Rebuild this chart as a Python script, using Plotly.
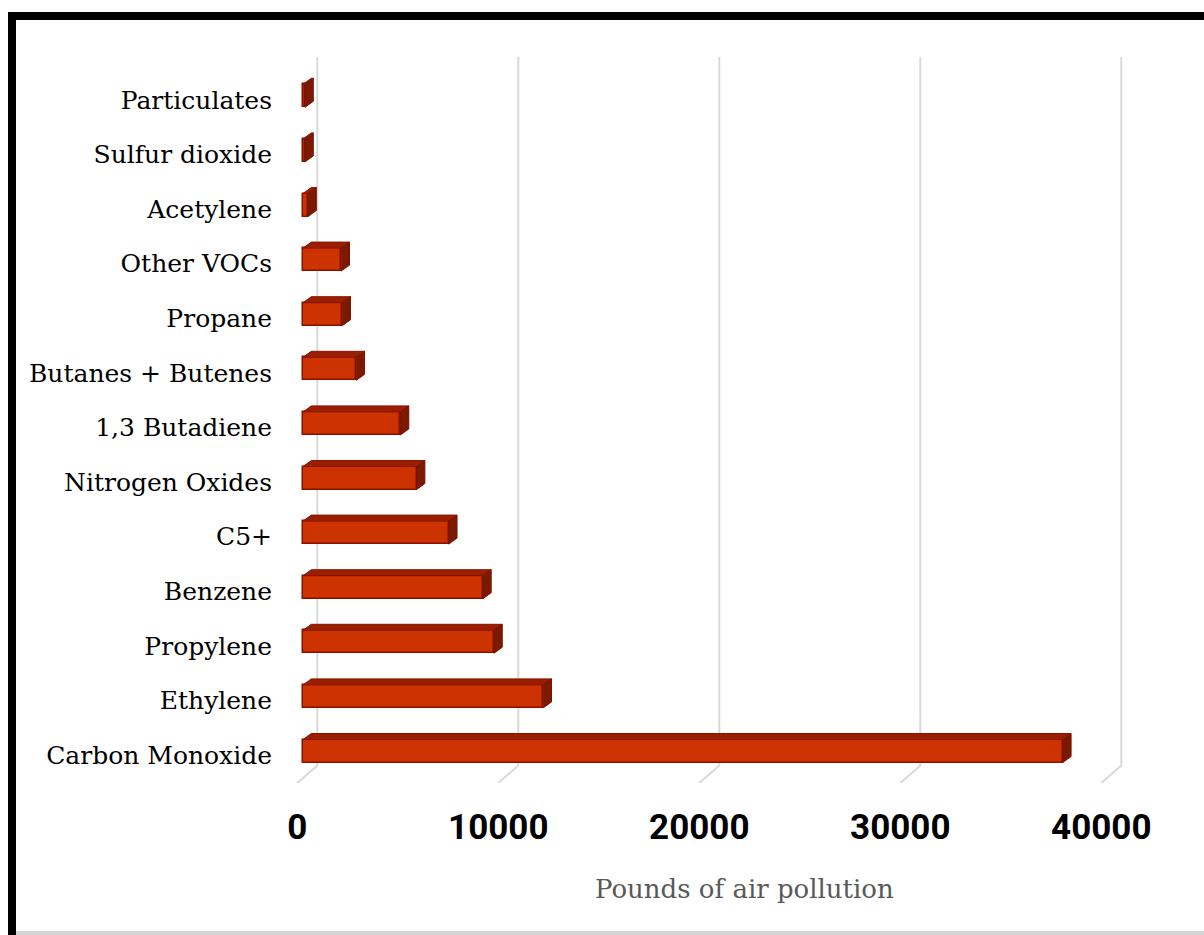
import plotly.graph_objects as go

# ---- data ----
categories = ["Carbon Monoxide", "Ethylene", "Propylene", "Benzene", "C5+",
              "Nitrogen Oxides", "1,3 Butadiene", "Butanes + Butenes", "Propane",
              "Other VOCs", "Acetylene", "Sulfur dioxide", "Particulates"]
values = [37800, 11950, 9500, 8950, 7250, 5650, 4850, 2650, 1950, 1900, 250, 100, 100]
x_ticks = [0, 10000, 20000, 30000, 40000]
x_title = "Pounds of air pollution"

# ---- geometry (pixels) ----
W, H = 1204, 935
L, R, T, B = 287, 1180, 40, 152
plot_w = R - L
plot_h = H - T - B
px_per_x = 0.0201          # pixels per data unit on x
px_per_y = 54.6            # pixels per category step
x0 = -(297.3 - L) / px_per_x
x1 = x0 + plot_w / px_per_x
y0 = -(783 - 751) / px_per_y
y1 = y0 + plot_h / px_per_y

def dx(px):
    return px / px_per_x

def dy(px):
    return px / px_per_y

# 3D offsets
floor_dx, floor_dy = dx(20), dy(17.5)
bar_off = dx(5.7)
depth_dx, depth_dy = dx(8.3), dy(6)
bar_h = dy(23)
grid_top = (751 - 57) / px_per_y

idx = list(range(len(categories)))

fig = go.Figure()

# top and side faces of the 3D bars
tx, ty, sx, sy = [], [], [], []
for i, v in zip(idx, values):
    top = i + bar_h / 2
    bot = i - bar_h / 2
    tx += [bar_off, bar_off + depth_dx, bar_off + v + depth_dx, bar_off + v, bar_off, None]
    ty += [top, top + depth_dy, top + depth_dy, top, top, None]
    sx += [bar_off + v, bar_off + v + depth_dx, bar_off + v + depth_dx, bar_off + v, bar_off + v, None]
    sy += [bot, bot + depth_dy, top + depth_dy, top, bot, None]

fig.add_trace(go.Scatter(x=tx, y=ty, mode="lines", fill="toself", fillcolor="#9a1f00",
                         line=dict(color="#8a1200", width=1), hoverinfo="skip",
                         showlegend=False, cliponaxis=False))
fig.add_trace(go.Scatter(x=sx, y=sy, mode="lines", fill="toself", fillcolor="#7a1a00",
                         line=dict(color="#7a1200", width=1), hoverinfo="skip",
                         showlegend=False, cliponaxis=False))

# front faces
fig.add_trace(go.Bar(orientation="h", y=idx, x=values, base=bar_off, width=bar_h,
                     marker=dict(color="#cc3300", line=dict(color="#8b1000", width=1.5)),
                     hoverinfo="skip", showlegend=False))

def px_x(p):
    return (p - L) / plot_w

def px_y(p):
    return (H - B - p) / plot_h

shapes = []
# gridlines on back plane with floor diagonal, drawn beneath the bars
for t in x_ticks:
    shapes.append(dict(type="path", xref="x", yref="y", layer="below",
                       path=f"M {t},{y0} L {t + floor_dx},{y0 + floor_dy} L {t + floor_dx},{grid_top}",
                       line=dict(color="#d9d9d9", width=2)))
shapes += [
    # black frame top and left
    dict(type="rect", xref="paper", yref="paper", x0=px_x(8), x1=px_x(1210),
         y0=px_y(20), y1=px_y(12), fillcolor="black", line=dict(width=0), layer="above"),
    dict(type="rect", xref="paper", yref="paper", x0=px_x(8), x1=px_x(16),
         y0=px_y(940), y1=px_y(12), fillcolor="black", line=dict(width=0), layer="above"),
    # light gray bottom edge
    dict(type="rect", xref="paper", yref="paper", x0=px_x(16), x1=px_x(1210),
         y0=px_y(935), y1=px_y(931), fillcolor="#d4d4d4", line=dict(width=0), layer="above"),
]

fig.update_layout(
    width=W, height=H,
    margin=dict(l=L, r=W - R, t=T, b=B, pad=0),
    paper_bgcolor="white", plot_bgcolor="white",
    bargap=0,
    shapes=shapes,
    xaxis=dict(range=[x0, x1], tickvals=x_ticks, ticktext=[str(t) for t in x_ticks],
               showgrid=False, zeroline=False, showline=False, ticks="",
               ticklabelstandoff=20,
               tickfont=dict(family="Roboto", size=35, color="#000000", weight="bold")),
    yaxis=dict(range=[y0, y1], tickvals=idx, ticktext=categories,
               showgrid=False, zeroline=False, showline=False, ticks="",
               ticklabelstandoff=14, ticklabelshift=4,
               tickfont=dict(family="DejaVu Serif", size=25, color="#000000")),
    annotations=[dict(text=x_title, xref="paper", yref="paper",
                      x=px_x(744), y=px_y(889), xanchor="center", yanchor="middle",
                      showarrow=False,
                      font=dict(family="DejaVu Serif", size=26, color="#595959"))],
)

fig.write_html("out.html", config={"displayModeBar": False},
               post_script="document.body.style.margin='0px';")
